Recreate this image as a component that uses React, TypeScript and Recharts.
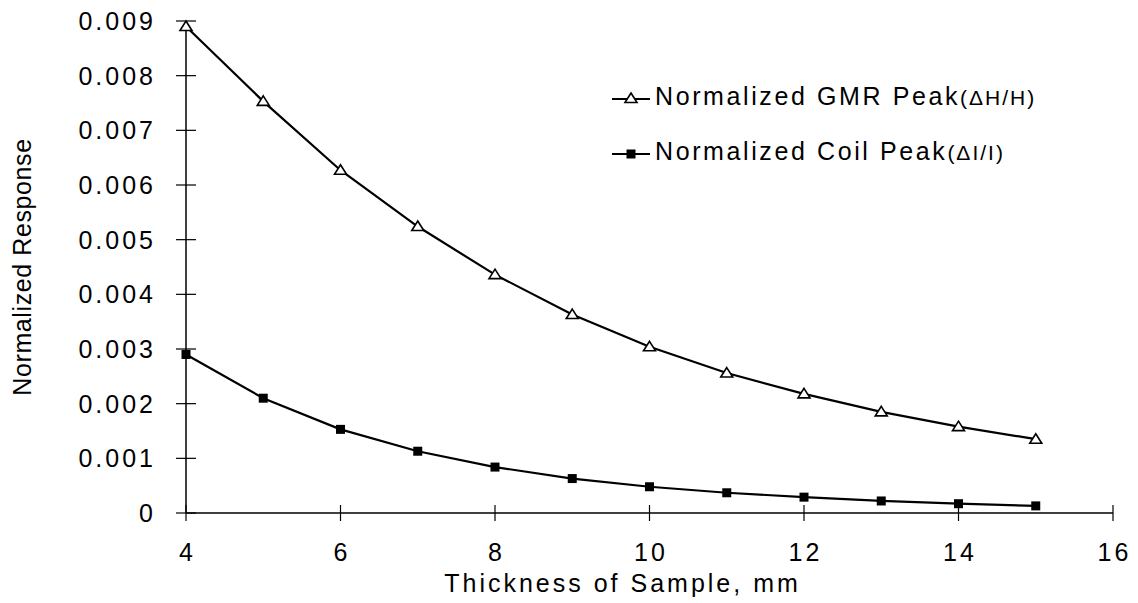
import React from "react";
import { LineChart, Line, XAxis, YAxis, Legend } from "recharts";

// Sample thickness (mm) and the normalized peak responses measured at each one
const THICKNESS = [4, 5, 6, 7, 8, 9, 10, 11, 12, 13, 14, 15];
const GMR_PEAK = [0.0089, 0.00753, 0.00627, 0.00524, 0.00436, 0.00363, 0.00304, 0.00256, 0.00218, 0.00185, 0.00158, 0.00135];
const COIL_PEAK = [0.0029, 0.0021, 0.00153, 0.00113, 0.00084, 0.00063, 0.00048, 0.00037, 0.00029, 0.00022, 0.00017, 0.00013];

const X_TICKS = [4, 6, 8, 10, 12, 14, 16];
const Y_TICKS = [0, 0.001, 0.002, 0.003, 0.004, 0.005, 0.006, 0.007, 0.008, 0.009];

const GMR_NAME = "Normalized GMR Peak(ΔH/H)";
const COIL_NAME = "Normalized Coil Peak(ΔI/I)";
const LEGEND_ORDER = ["gmr", "coil"];

const FONT = "'Liberation Sans', Arial, Helvetica, sans-serif";

const data = THICKNESS.map((t, i) => ({ t, gmr: GMR_PEAK[i], coil: COIL_PEAK[i] }));

const fmtY = (v: number) => (v === 0 ? "0" : v.toFixed(3));

const YTick = (props: any) => {
  const { x, y, payload } = props;
  return (
    <g>
      <line x1={x - 10} x2={x + 10} y1={y} y2={y} stroke="#000" strokeWidth={1.2} />
      <text x={x - 30} y={y} dy="0.36em" textAnchor="end" fontFamily={FONT} fontSize={25} letterSpacing={3} fill="#000">
        {fmtY(payload.value)}
      </text>
    </g>
  );
};

const XTick = (props: any) => {
  const { x, y, payload } = props;
  return (
    <g>
      <line x1={x} x2={x} y1={y - 8} y2={y + 8} stroke="#000" strokeWidth={1.2} />
      <text x={x + 1.5} y={y + 48} textAnchor="middle" fontFamily={FONT} fontSize={25} letterSpacing={3} fill="#000">
        {payload.value}
      </text>
    </g>
  );
};

const TriangleDot = (props: any) => {
  const { cx, cy } = props;
  if (cx == null || cy == null) return null;
  return (
    <path
      d={`M${cx},${cy - 5.5} L${cx + 6},${cy + 4} L${cx - 6},${cy + 4} Z`}
      fill="#fff"
      stroke="#000"
      strokeWidth={1.6}
    />
  );
};

const SquareDot = (props: any) => {
  const { cx, cy } = props;
  if (cx == null || cy == null) return null;
  return <rect x={cx - 4.5} y={cy - 4.5} width={9} height={9} fill="#000" />;
};

const LegendContent = (props: any) => {
  const payload = [...(props.payload || [])].sort(
    (a: any, b: any) => LEGEND_ORDER.indexOf(a.dataKey) - LEGEND_ORDER.indexOf(b.dataKey)
  );
  return (
    <svg width={500} height={110} style={{ display: "block" }}>
      {payload.map((entry: any, i: number) => {
        const cy = 27 + i * 55;
        const name: string = entry.value;
        const cut = name.indexOf("(");
        const main = name.slice(0, cut);
        const unit = name.slice(cut);
        const isGmr = entry.dataKey === "gmr";
        return (
          <g key={name}>
            <line x1={12} x2={50} y1={cy} y2={cy} stroke="#000" strokeWidth={2.2} />
            {isGmr ? <TriangleDot cx={31} cy={cy - 0.5} /> : <SquareDot cx={31} cy={cy} />}
            <text x={55} y={cy} dy="0.36em" fontFamily={FONT} fill="#000">
              <tspan fontSize={25} letterSpacing={2.6}>{main}</tspan>
              <tspan fontSize={21} letterSpacing={2}>{unit}</tspan>
            </text>
          </g>
        );
      })}
    </svg>
  );
};

export default function App() {
  return (
    <div style={{ position: "absolute", left: 0, top: 0, background: "#fff" }}>
      <LineChart width={1138} height={603} data={data} margin={{ top: 21, right: 25, bottom: 0, left: 0 }}>
        <XAxis
          dataKey="t"
          type="number"
          domain={[4, 16]}
          ticks={X_TICKS}
          height={90}
          tickSize={0}
          tickMargin={0}
          tickLine={false}
          axisLine={{ stroke: "#000", strokeWidth: 1.5 }}
          tick={<XTick />}
          interval={0}
          label={({ viewBox }: any) => (
            <text
              x={viewBox.x + viewBox.width / 2 - 27}
              y={viewBox.y + 79}
              textAnchor="middle"
              fontFamily={FONT}
              fontSize={25}
              letterSpacing={3}
              fill="#000"
            >
              Thickness of Sample, mm
            </text>
          )}
        />
        <YAxis
          type="number"
          domain={[0, 0.009]}
          ticks={Y_TICKS}
          width={186}
          tickSize={0}
          tickMargin={0}
          tickLine={false}
          axisLine={{ stroke: "#000", strokeWidth: 1.5 }}
          tick={<YTick />}
          interval={0}
          label={({ viewBox }: any) => {
            const cx = 22;
            const cy = viewBox.y + viewBox.height / 2;
            return (
              <text
                x={cx}
                y={cy}
                transform={`rotate(-90, ${cx}, ${cy})`}
                textAnchor="middle"
                dy="0.36em"
                fontFamily={FONT}
                fontSize={25}
                letterSpacing={0.6}
                fill="#000"
              >
                Normalized Response
              </text>
            );
          }}
        />
        <Legend
          layout="vertical"
          align="center"
          verticalAlign="middle"
          wrapperStyle={{ left: 600, top: 72, width: 500, height: 110 }}
          content={<LegendContent />}
        />
        <Line
          dataKey="gmr"
          name={GMR_NAME}
          stroke="#000"
          strokeWidth={2.2}
          dot={<TriangleDot />}
          activeDot={false}
          isAnimationActive={false}
        />
        <Line
          dataKey="coil"
          name={COIL_NAME}
          stroke="#000"
          strokeWidth={2.2}
          dot={<SquareDot />}
          activeDot={false}
          isAnimationActive={false}
        />
      </LineChart>
    </div>
  );
}
